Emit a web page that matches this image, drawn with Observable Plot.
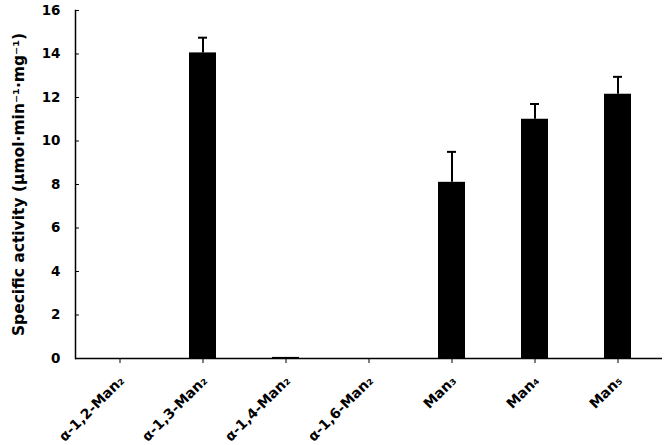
<!DOCTYPE html>
<html>
<head>
<meta charset="utf-8">
<script src="https://cdn.jsdelivr.net/npm/d3@7"></script>
<script src="https://cdn.jsdelivr.net/npm/@observablehq/plot@0.6"></script>
<style>
  body { margin: 0; background: #fff; }
  #chart svg { font-family: "DejaVu Sans", "Liberation Sans", Arial, sans-serif; font-weight: bold; }
</style>
</head>
<body>
<div id="chart"></div>
<script>
const categories = ["α-1,2-Man₂", "α-1,3-Man₂", "α-1,4-Man₂", "α-1,6-Man₂", "Man₃", "Man₄", "Man₅"];
const activity = [0, 14.05, 0.05, 0, 8.1, 11.0, 12.15];
const errors = [0, 0.7, 0, 0, 1.4, 0.7, 0.8];
const yTicks = [0, 2, 4, 6, 8, 10, 12, 14, 16];
const yLabel = ["Specific activity (μmol·min⁻¹·mg⁻¹)"];

const W = 664, ML = 75, MR = 2;
const data = categories.map((c, i) => ({cat: c, v: activity[i], e: errors[i]}));
const withErr = data.filter(d => d.e > 0);

const chart = Plot.plot({
  width: W,
  height: 445,
  marginLeft: ML,
  marginRight: MR,
  marginTop: 10,
  marginBottom: 87,
  x: {domain: categories, paddingInner: 0.68, paddingOuter: 0.34, label: null},
  y: {domain: [0, 16], ticks: yTicks, label: null},
  marks: [
    Plot.barY(data, {x: "cat", y: "v", fill: "black"}),
    Plot.ruleX(withErr, {x: "cat", y1: "v", y2: d => d.v + d.e, stroke: "black", strokeWidth: 2}),
    Plot.tickY(withErr, {x: "cat", y: d => d.v + d.e, stroke: "black", strokeWidth: 2, insetLeft: 9, insetRight: 9}),
    Plot.frame({anchor: "left", stroke: "black", strokeWidth: 1.5}),
    Plot.ruleY([0], {stroke: "black", strokeWidth: 1.5}),
    Plot.tickY(yTicks, {y: d => d, stroke: "black", strokeWidth: 1, insetRight: W - ML - MR - 4}),
    Plot.axisY({ticks: yTicks, tickSize: 0, tickPadding: 15, fontSize: 13.5, label: null}),
    Plot.text(yLabel, {frameAnchor: "left", text: d => d, rotate: -90, textAnchor: "middle", dx: -56, fontSize: 15.5, fontWeight: "bold"}),
    Plot.axisX({tickSize: 5, tickFormat: () => "", label: null}),
    Plot.text(categories, {x: d => d, text: d => d, frameAnchor: "bottom", rotate: -45, textAnchor: "end", lineAnchor: "middle", dy: 20, dx: 2, fontSize: 14, fontWeight: "bold"})
  ]
});
document.getElementById("chart").appendChild(chart);
</script>
</body>
</html>
